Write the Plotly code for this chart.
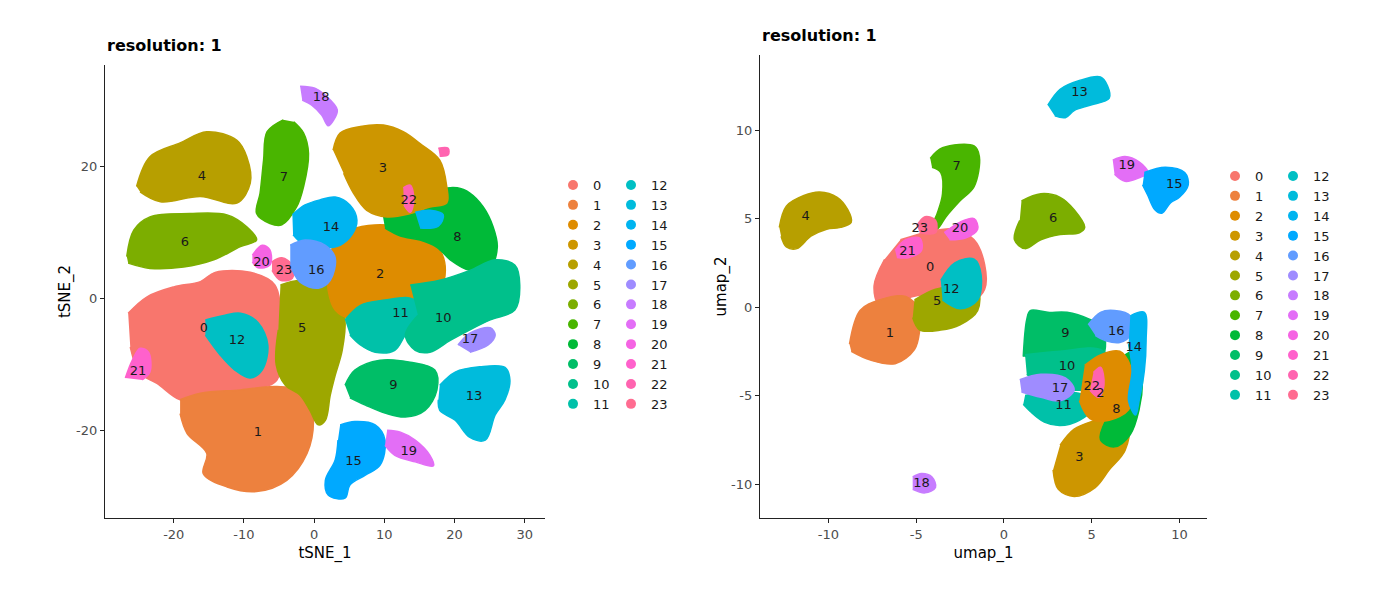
import math
import plotly.graph_objects as go

# Cluster ids and label positions
clusters = list(range(24))

# -- tSNE panel: cluster outlines (x, y) --
tsne_c0 = [(-26.5, -2.2), (-23.8, 0.3), (-20.0, 1.8), (-16.2, 2.6), (-14.1, 4.0), (-9.1, 4.0),
           (-5.6, 2.1), (-4.8, -4.7), (-5.3, -12.3), (-9.1, -13.8), (-12.4, -14.6), (-16.2, -15.3),
           (-19.1, -15.3), (-22.4, -12.8), (-24.8, -11.3), (-26.2, -7.3)]
tsne_c1 = [(-19.1, -15.3), (-16.2, -14.3), (-10.5, -13.8), (-5.3, -13.3), (-1.0, -14.3), (-0.1, -18.4),
           (-1.0, -23.4), (-3.9, -27.5), (-8.2, -29.2), (-12.4, -28.5), (-15.8, -26.5), (-15.3, -23.4),
           (-18.1, -20.4), (-19.1, -17.4)]
tsne_c2 = [(3.0, 9.7), (5.8, 10.7), (9.4, 11.2), (13.0, 10.7), (15.8, 9.2), (17.9, 7.4), (18.7, 4.3),
           (17.9, 1.3), (15.8, -0.2), (12.3, -1.0), (8.0, -1.7), (5.1, -2.9), (3.0, -1.7), (2.0, 1.3),
           (2.0, 5.9)]
tsne_c3 = [(2.7, 22.5), (3.7, 25.1), (6.6, 26.1), (9.9, 26.3), (12.7, 25.3), (15.1, 23.5), (17.9, 21.0),
           (18.9, 17.0), (18.9, 14.5), (16.5, 13.9), (13.7, 12.9), (10.4, 12.4), (7.5, 13.4), (5.6, 16.0),
           (4.2, 19.0)]
tsne_c4 = [(-25.3, 17.0), (-23.4, 21.5), (-19.1, 23.6), (-15.3, 25.3), (-11.0, 24.0), (-9.6, 21.5),
           (-9.1, 17.5), (-11.0, 14.5), (-16.2, 15.5), (-21.9, 14.7), (-24.8, 16.2)]
tsne_c5 = [(-4.8, 2.1), (-2.0, 2.8), (1.1, 2.4), (3.4, 0.6), (4.4, -3.2), (4.0, -7.8), (3.0, -11.6),
           (2.3, -14.6), (1.6, -18.4), (0.6, -19.1), (-0.6, -16.9), (-2.0, -14.6), (-4.1, -13.1),
           (-5.4, -10.0), (-5.1, -4.7)]
tsne_c6 = [(-26.7, 6.4), (-25.7, 10.4), (-23.4, 12.4), (-17.7, 12.9), (-12.4, 12.7), (-9.6, 10.9),
           (-8.2, 8.9), (-10.5, 7.9), (-14.3, 5.9), (-18.6, 4.8), (-23.4, 4.6), (-26.5, 5.4)]
tsne_c7 = [(-4.4, 27.1), (-6.7, 25.3), (-7.2, 21.0), (-7.7, 16.0), (-8.2, 12.9), (-6.3, 11.4), (-4.6, 11.2),
           (-2.5, 13.9), (-1.5, 17.0), (-0.8, 22.0), (-1.5, 25.1), (-2.9, 26.8)]
tsne_c8 = [(9.8, 12.5), (13.7, 12.8), (16.5, 13.9), (18.4, 16.5), (20.4, 16.8), (22.2, 16.0), (24.1, 13.9),
           (25.5, 10.9), (26.1, 7.8), (25.1, 4.8), (22.2, 4.3), (19.4, 5.9), (17.5, 7.8), (15.1, 8.9),
           (12.3, 9.5), (10.1, 10.7)]
tsne_c9 = [(4.4, -13.1), (5.8, -10.8), (9.4, -9.3), (13.7, -9.6), (17.2, -10.8), (17.5, -13.8),
           (15.8, -16.9), (13.0, -17.9), (10.1, -17.3), (7.3, -16.1), (5.1, -15.0)]
tsne_c10 = [(13.7, 2.1), (17.9, 2.8), (22.2, 4.3), (25.8, 5.9), (28.6, 5.1), (29.3, 2.1), (28.6, -1.7),
            (25.1, -3.2), (22.2, -4.7), (19.4, -6.3), (16.5, -8.1), (14.4, -7.8), (13.0, -5.5), (14.8, -2.5)]
tsne_c11 = [(4.4, -3.2), (6.6, -1.0), (10.1, -0.2), (13.7, 0.1), (15.1, -1.0), (14.8, -3.2), (13.0, -5.5),
            (11.5, -7.8), (8.7, -8.1), (6.6, -7.0), (5.1, -5.5)]
tsne_c12 = [(-15.5, -3.2), (-12.7, -2.5), (-10.5, -2.2), (-8.0, -3.6), (-6.6, -7.0), (-7.4, -10.8),
            (-9.1, -12.0), (-11.3, -10.8), (-13.4, -8.5), (-15.5, -5.5)]
tsne_c13 = [(17.9, -13.1), (20.1, -11.1), (23.6, -10.3), (27.2, -10.4), (27.9, -12.3), (27.2, -15.3),
            (25.8, -17.6), (24.4, -21.4), (22.2, -21.0), (20.1, -18.4), (17.9, -16.9), (17.7, -15.3)]
tsne_c14 = [(-3.1, 12.7), (-1.3, 14.2), (0.9, 15.0), (3.0, 15.4), (5.1, 14.2), (6.1, 11.9), (5.4, 9.7),
            (3.7, 8.1), (1.6, 7.7), (-1.3, 8.1), (-3.0, 9.7), None,
            (14.4, 13.1), (16.5, 13.4), (18.4, 12.7), (17.7, 11.0), (15.1, 10.7)]
tsne_c15 = [(3.7, -19.1), (5.8, -18.6), (8.7, -19.1), (10.1, -21.4), (9.4, -25.2), (7.3, -26.7),
            (5.1, -28.2), (4.4, -30.2), (2.0, -29.7), (1.6, -27.5), (3.0, -24.4), (3.4, -21.4)]
tsne_c16 = [(-3.4, 8.1), (-1.3, 8.9), (1.6, 8.1), (3.0, 6.2), (2.3, 2.8), (0.6, 1.6), (-2.0, 2.5), (-3.4, 5.1)]
tsne_c17 = [(20.5, -7.0), (22.2, -5.2), (25.1, -4.4), (25.8, -5.5), (24.8, -7.0), (22.2, -8.1)]
tsne_c18 = [(-2.0, 32.2), (0.1, 31.9), (1.6, 30.8), (3.3, 28.6), (2.8, 27.1), (2.0, 26.2), (1.1, 27.8),
            (-0.3, 29.3), (-1.7, 30.1)]
tsne_c19 = [(10.4, -19.9), (12.3, -20.2), (14.4, -21.4), (16.5, -23.7), (17.0, -25.3), (14.4, -24.7),
            (11.5, -23.7), (10.1, -22.2)]
tsne_c20 = [(-8.8, 6.6), (-7.4, 8.1), (-6.3, 7.4), (-6.3, 5.1), (-8.0, 4.7), (-8.8, 5.6)]
tsne_c21 = [(-26.9, -12.0), (-25.9, -9.3), (-24.8, -7.5), (-23.6, -8.1), (-23.4, -11.1), (-24.5, -12.3)]
tsne_c22 = [(12.7, 16.8), (13.7, 17.2), (14.2, 15.0), (13.7, 13.1), (12.8, 14.2), None,
            (17.7, 22.8), (19.1, 22.8), (19.1, 21.8), (17.9, 21.6)]
tsne_c23 = [(-6.0, 5.6), (-4.6, 6.2), (-3.1, 5.1), (-3.1, 3.1), (-4.8, 2.8), (-6.0, 4.3)]

tsne_label_x = [-15.7, -8.0, 9.4, 9.8, -16.0, -1.7, -18.4, -4.3, 20.4, 11.3, 18.4, 12.3,
                -11.0, 22.8, 2.4, 5.6, 0.3, 22.2, 1.0, 13.5, -7.5, -25.1, 13.5, -4.3]
tsne_label_y = [-4.6, -20.3, 3.7, 19.7, 18.5, -4.6, 8.5, 18.3, 9.3, -13.1, -3.1, -2.2,
                -6.4, -14.9, 10.7, -24.7, 4.3, -6.2, 30.4, -23.2, 5.4, -11.1, 14.8, 4.3]
tsne_order = [4, 6, 7, 18, 20, 23, 0, 1, 21, 12, 5, 2, 8, 3, 22, 14, 16, 11, 10, 17, 9, 13, 15, 19]

# -- UMAP panel: cluster outlines --
umap_c0 = [(-5.9, 3.8), (-4.5, 4.2), (-2.8, 4.4), (-1.7, 3.8), (-1.1, 2.4), (-1.1, 1.0), (-1.7, 0.4),
           (-3.1, 0.4), (-4.5, 0.7), (-5.9, 0.4), (-7.1, 0.1), (-7.4, 1.2), (-6.8, 2.7)]
umap_c1 = [(-8.8, -2.1), (-8.2, -0.2), (-7.1, 0.4), (-5.6, 0.6), (-4.8, -0.2), (-4.8, -1.3), (-5.1, -2.4),
           (-6.2, -3.2), (-7.6, -3.0), (-8.7, -2.5)]
umap_c2 = [(4.6, -3.3), (5.5, -2.7), (6.6, -2.5), (7.2, -3.3), (7.4, -4.7), (7.1, -5.8), (6.0, -6.4),
           (4.9, -6.3), (4.3, -5.3)]
umap_c3 = [(3.2, -7.8), (4.0, -6.9), (5.2, -6.4), (6.3, -6.1), (7.1, -6.7), (6.9, -8.1), (6.0, -9.2),
           (5.2, -10.2), (4.0, -10.7), (3.1, -10.3), (2.8, -9.2)]
umap_c4 = [(-12.8, 4.5), (-12.4, 5.7), (-11.4, 6.3), (-10.5, 6.5), (-9.5, 6.2), (-8.9, 5.5), (-8.7, 4.8),
           (-9.3, 4.5), (-10.1, 4.4), (-11.0, 4.0), (-11.8, 3.3), (-12.4, 3.4), (-12.7, 4.0)]
umap_c5 = [(-5.1, 0.4), (-3.9, 1.0), (-2.5, 1.2), (-1.5, 1.0), (-1.5, -0.2), (-2.5, -1.0), (-3.6, -1.3),
           (-4.8, -1.3), (-5.2, -0.6)]
umap_c6 = [(1.0, 6.0), (2.1, 6.4), (3.2, 6.2), (4.0, 5.5), (4.6, 4.5), (4.3, 4.2), (3.2, 4.1), (2.1, 3.8),
           (1.2, 3.3), (0.6, 3.8), (0.9, 4.9)]
umap_c7 = [(-4.2, 8.4), (-3.5, 9.0), (-1.7, 9.1), (-1.4, 8.5), (-1.7, 6.8), (-2.5, 6.0), (-3.3, 5.1),
           (-3.8, 4.4), (-4.2, 4.3), (-3.8, 5.3), (-3.5, 6.4), (-3.6, 7.6), (-4.1, 7.9)]
umap_c8 = [(6.9, -2.7), (7.7, -2.4), (7.9, -4.1), (7.7, -5.8), (7.2, -7.2), (6.3, -7.9), (5.5, -7.5),
           (5.8, -6.4), (6.6, -5.3), (6.9, -4.1)]
umap_c9 = [(1.1, -2.8), (1.3, -0.7), (1.5, -0.2), (2.5, -0.3), (3.6, -0.3), (4.9, -0.7), (5.6, -1.1),
           (5.6, -2.8), (3.6, -3.0), (2.1, -3.0)]
umap_c10 = [(1.2, -2.7), (3.2, -2.5), (5.5, -2.4), (6.2, -3.3), (5.8, -4.4), (3.8, -4.7), (2.1, -4.4),
            (1.3, -3.8)]
umap_c11 = [(1.2, -5.0), (2.6, -4.8), (4.6, -5.0), (5.0, -5.8), (4.3, -6.4), (3.2, -6.7), (2.3, -6.5),
            (1.5, -5.9), (1.1, -5.5)]
umap_c12 = [(-3.6, 1.5), (-2.8, 2.5), (-1.7, 2.7), (-1.3, 1.8), (-1.5, 0.4), (-2.5, -0.1), (-3.5, 0.4)]
umap_c13 = [(2.5, 11.4), (3.2, 12.3), (4.3, 12.8), (5.5, 13.0), (5.9, 12.5), (6.0, 11.8), (4.9, 11.4),
            (4.0, 11.1), (3.5, 10.7), (2.9, 10.8)]
umap_c14 = [(7.2, -0.5), (8.0, -0.3), (8.1, -1.9), (8.0, -3.6), (7.7, -5.3), (7.5, -6.1), (7.1, -5.3),
            (7.3, -3.6), (7.1, -2.1)]
umap_c15 = [(8.0, 7.6), (9.2, 7.9), (10.3, 7.6), (10.5, 6.9), (10.0, 6.2), (9.5, 5.9), (9.0, 5.3),
            (8.6, 5.5), (8.2, 6.3), (7.9, 6.9)]
umap_c16 = [(4.8, -1.0), (5.5, -0.3), (6.3, -0.2), (7.2, -0.5), (7.2, -1.6), (6.6, -2.0), (5.8, -1.9),
            (5.2, -1.6)]
umap_c17 = [(0.9, -4.1), (2.1, -3.8), (3.5, -4.0), (4.0, -4.7), (3.2, -5.3), (2.1, -5.1), (1.0, -4.8)]
umap_c18 = [(-5.2, -9.6), (-4.7, -9.4), (-4.1, -9.6), (-3.9, -10.2), (-4.5, -10.5), (-5.2, -10.3)]
umap_c19 = [(6.2, 8.3), (6.9, 8.5), (7.7, 8.2), (8.2, 7.6), (7.7, 7.3), (6.9, 7.1), (6.3, 7.5)]
umap_c20 = [(-3.4, 4.2), (-2.5, 4.8), (-1.7, 5.0), (-1.5, 4.4), (-2.2, 3.9), (-3.1, 3.8)]
umap_c21 = [(-6.2, 3.2), (-5.6, 3.8), (-4.8, 3.9), (-4.7, 3.2), (-5.4, 2.8), (-6.1, 2.8)]
umap_c22 = [(5.1, -3.7), (5.5, -3.4), (5.7, -4.4), (5.4, -5.1), (4.9, -4.7)]
umap_c23 = [(-4.96, 4.6), (-4.5, 5.1), (-3.9, 4.9), (-3.9, 4.2), (-4.8, 4.2)]

umap_label_x = [-4.2, -6.5, 5.5, 4.3, -11.3, -3.8, 2.8, -2.7, 6.4, 3.5, 3.6, 3.4,
                -3.0, 4.3, 7.4, 9.7, 6.4, 3.2, -4.7, 7.0, -2.5, -5.5, 5.0, -4.8]
umap_label_y = [2.2, -1.5, -4.9, -8.5, 5.1, 0.3, 5.0, 7.9, -5.8, -1.5, -3.4, -5.6,
                1.0, 12.1, -2.3, 6.9, -1.4, -4.6, -10.0, 8.0, 4.4, 3.1, -4.5, 4.4]
umap_order = [4, 7, 13, 6, 19, 15, 18, 0, 1, 5, 12, 21, 23, 20, 9, 10, 11, 17, 3, 8, 2, 22, 16, 14]

tsne_outlines = [tsne_c0, tsne_c1, tsne_c2, tsne_c3, tsne_c4, tsne_c5, tsne_c6, tsne_c7, tsne_c8,
                 tsne_c9, tsne_c10, tsne_c11, tsne_c12, tsne_c13, tsne_c14, tsne_c15, tsne_c16,
                 tsne_c17, tsne_c18, tsne_c19, tsne_c20, tsne_c21, tsne_c22, tsne_c23]
umap_outlines = [umap_c0, umap_c1, umap_c2, umap_c3, umap_c4, umap_c5, umap_c6, umap_c7, umap_c8,
                 umap_c9, umap_c10, umap_c11, umap_c12, umap_c13, umap_c14, umap_c15, umap_c16,
                 umap_c17, umap_c18, umap_c19, umap_c20, umap_c21, umap_c22, umap_c23]

# Axis ticks
tsne_xticks = [-20, -10, 0, 10, 20, 30]
tsne_yticks = [-20, 0, 20]
umap_xticks = [-10, -5, 0, 5, 10]
umap_yticks = [-10, -5, 0, 5, 10]

FONT = "DejaVu Sans"


def hue_color(h, c=100.0, l=65.0):
    # ggplot2 default hue palette (HCL -> sRGB)
    hr = math.radians(h)
    U, V = c * math.cos(hr), c * math.sin(hr)
    Xn, Yn, Zn = 95.047, 100.0, 108.883
    Y = Yn * ((l + 16) / 116) ** 3
    den = Xn + 15 * Yn + 3 * Zn
    un, vn = 4 * Xn / den, 9 * Yn / den
    u = U / (13 * l) + un
    v = V / (13 * l) + vn
    X = 9 * Y * u / (4 * v)
    Z = Y * (12 - 3 * u - 20 * v) / (4 * v)
    X, Y, Z = X / 100, Y / 100, Z / 100
    rgb = [3.240479 * X - 1.537150 * Y - 0.498535 * Z,
           -0.969256 * X + 1.875992 * Y + 0.041556 * Z,
           0.055648 * X - 0.204043 * Y + 1.057311 * Z]
    out = []
    for ch in rgb:
        ch = 1.055 * ch ** (1 / 2.4) - 0.055 if ch > 0.0031308 else 12.92 * ch
        out.append(int(round(min(max(ch, 0), 1) * 255)))
    return "#%02X%02X%02X" % tuple(out)


colors = [hue_color(15 * (i + 1)) for i in clusters]

fig = go.Figure()


def add_panel(outlines, order, lab_x, lab_y, xa, ya, legends):
    for k in order:
        pts = outlines[k]
        xs = [p[0] if p else None for p in pts]
        ys = [p[1] if p else None for p in pts]
        fig.add_trace(go.Scatter(
            x=xs, y=ys, mode="lines", fill="toself",
            line=dict(color=colors[k], width=1.5, shape="spline", smoothing=1.0),
            fillcolor=colors[k],
            xaxis=xa, yaxis=ya, showlegend=False, hoverinfo="skip",
        ))
    # cluster labels
    fig.add_trace(go.Scatter(
        x=lab_x, y=lab_y, text=[str(c) for c in clusters], mode="text",
        textfont=dict(family=FONT, size=13, color="#1a1a1a"),
        xaxis=xa, yaxis=ya, showlegend=False, hoverinfo="skip",
    ))
    # legend dots (two columns)
    for k in clusters:
        fig.add_trace(go.Scatter(
            x=[None], y=[None], mode="markers", name=str(k),
            marker=dict(color=colors[k], size=10),
            xaxis=xa, yaxis=ya, legend=legends[0] if k < 12 else legends[1],
        ))


add_panel(tsne_outlines, tsne_order, tsne_label_x, tsne_label_y, "x", "y", ["legend", "legend2"])
add_panel(umap_outlines, umap_order, umap_label_x, umap_label_y, "x2", "y2", ["legend3", "legend4"])

W, H = 1399, 602
PAGE = 8  # the page body puts the figure 8 px in from the window corner


def px_x(px):
    return (px - PAGE) / W


def px_y(py):
    return 1 - (py - PAGE) / H


def axis(domain, rng, ticks, title, anchor, standoff):
    return dict(
        domain=domain, range=rng, tickvals=ticks, ticktext=[str(t) for t in ticks],
        anchor=anchor, automargin=False,
        showline=True, linecolor="#222222", linewidth=1.2, mirror=False,
        ticks="outside", ticklen=4, tickcolor="#222222", tickwidth=1.2,
        showgrid=False, zeroline=False,
        tickfont=dict(family=FONT, size=13, color="#4d4d4d"),
        title=dict(text=title, font=dict(family=FONT, size=15, color="black"), standoff=standoff),
    )


def legend(x_px, y_px):
    return dict(
        x=px_x(x_px), y=px_y(y_px), xanchor="left", yanchor="top",
        font=dict(family=FONT, size=13, color="#1a1a1a"),
        bgcolor="rgba(0,0,0,0)", borderwidth=0, tracegroupgap=0,
    )


fig.update_layout(
    width=W, height=H,
    margin=dict(l=0, r=0, t=0, b=0, autoexpand=False),
    paper_bgcolor="white", plot_bgcolor="white",
    xaxis=axis([px_x(105), px_x(545)], [-29.8, 32.9], tsne_xticks, "tSNE_1", "y", 6),
    yaxis=axis([px_y(518), px_y(65)], [-33.2, 35.4], tsne_yticks, "tSNE_2", "x", 1),
    xaxis2=axis([px_x(760), px_x(1207)], [-13.9, 11.57], umap_xticks, "umap_1", "y2", 6),
    yaxis2=axis([px_y(518), px_y(55)], [-11.92, 14.24], umap_yticks, "umap_2", "x2", 0),
    legend=legend(573 - 20, 170),
    legend2=legend(631 - 20, 170),
    legend3=legend(1235 - 20, 161),
    legend4=legend(1293 - 20, 161),
    annotations=[
        dict(text="<b>resolution: 1</b>", x=px_x(105), y=px_y(46), xref="paper", yref="paper",
             xanchor="left", yanchor="middle", showarrow=False,
             font=dict(family=FONT, size=16, color="black")),
        dict(text="<b>resolution: 1</b>", x=px_x(760), y=px_y(36), xref="paper", yref="paper",
             xanchor="left", yanchor="middle", showarrow=False,
             font=dict(family=FONT, size=16, color="black")),
    ],
)

fig.write_html("out.html")
